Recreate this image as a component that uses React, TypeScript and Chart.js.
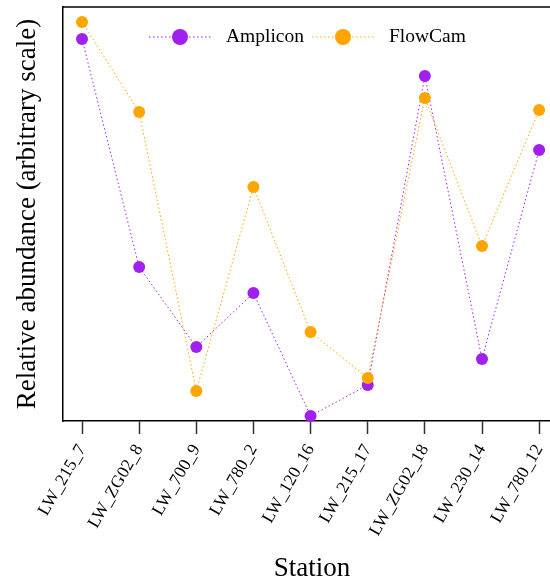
import React, { useEffect, useRef } from "react";
import { Chart, registerables } from "chart.js";

Chart.register(...registerables);

const stations = [
  "LW_215_7",
  "LW_ZG02_8",
  "LW_700_9",
  "LW_780_2",
  "LW_120_16",
  "LW_215_17",
  "LW_ZG02_18",
  "LW_230_14",
  "LW_780_12",
];
const amplicon = [382, 154, 74, 128, 5, 36, 345, 62, 271];
const flowcam = [399, 309, 30, 234, 89, 43, 323, 175, 311];
const seriesNames = ["Amplicon", "FlowCam"];
const seriesColors = ["#A020F0", "#FFA500"];
const xTitle = "Station";
const yTitle = "Relative abundance (arbitrary scale)";

const FONT = "'Liberation Serif', 'Times New Roman', serif";

const frameAndLegend = {
  id: "frameAndLegend",
  afterDraw(chart: any) {
    const { ctx, chartArea } = chart;
    ctx.save();
    ctx.strokeStyle = "#000";
    ctx.lineWidth = 1.5;
    ctx.beginPath();
    ctx.moveTo(chartArea.left, chartArea.top);
    ctx.lineTo(chartArea.right, chartArea.top);
    ctx.stroke();
    // x-axis title (axes extend slightly past the right edge, so centre is offset)
    ctx.fillStyle = "#000";
    ctx.font = `27px ${FONT}`;
    ctx.textAlign = "center";
    ctx.textBaseline = "middle";
    ctx.fillText(xTitle, 312, 568.5);
    const y = 37;
    const starts = [149, 312];
    seriesNames.forEach((name, i) => {
      const x0 = starts[i];
      ctx.strokeStyle = seriesColors[i];
      ctx.lineWidth = 1;
      ctx.setLineDash([1.5, 2.5]);
      ctx.beginPath();
      ctx.moveTo(x0, y);
      ctx.lineTo(x0 + 62, y);
      ctx.stroke();
      ctx.setLineDash([]);
      ctx.fillStyle = seriesColors[i];
      ctx.beginPath();
      ctx.arc(x0 + 31, y, 8, 0, Math.PI * 2);
      ctx.fill();
      ctx.fillStyle = "#000";
      ctx.font = `19.5px ${FONT}`;
      ctx.textBaseline = "middle";
      ctx.textAlign = "left";
      ctx.fillText(name, x0 + 77, y);
    });
    ctx.restore();
  },
};

const zeroPad = () => ({ left: 0, top: 0, right: 0, bottom: 0 });

export default function App() {
  const ref = useRef<HTMLCanvasElement>(null);
  useEffect(() => {
    if (!ref.current) return;
    Chart.defaults.font.family = FONT;
    const mk = (vals: number[], i: number) => ({
      label: seriesNames[i],
      data: vals.map((v, k) => ({ x: k, y: v })),
      borderColor: seriesColors[i],
      backgroundColor: seriesColors[i],
      borderWidth: 1,
      borderDash: [1.5, 2.5],
      pointRadius: 6,
      pointBorderWidth: 0,
      pointBackgroundColor: seriesColors[i],
      clip: false as any,
    });
    const chart = new Chart(ref.current, {
      type: "line",
      data: { datasets: [mk(flowcam, 1), mk(amplicon, 0)] as any },
      options: {
        animation: false,
        responsive: false,
        maintainAspectRatio: false,
        layout: { autoPadding: false, padding: { top: 7, left: 0, right: 0, bottom: 0 } },
        plugins: { legend: { display: false }, tooltip: { enabled: false } },
        scales: {
          x: {
            type: "linear",
            min: -0.333,
            max: 8.19,
            afterBuildTicks: (axis: any) => {
              axis.ticks = stations.map((_, i) => ({ value: i }));
            },
            afterFit: (s: any) => {
              s.height = 161;
              s.paddingLeft = 0;
              s.paddingRight = 0;
              s.getPadding = zeroPad;
            },
            ticks: {
              autoSkip: false,
              minRotation: 60,
              maxRotation: 60,
              padding: 7,
              color: "#000",
              font: { size: 17.5 },
              callback: (v: any) => stations[v as number] ?? "",
            },
            grid: {
              drawOnChartArea: false,
              tickLength: 13,
              tickWidth: 1.5,
              tickColor: "#333",
            },
            border: { color: "#000", width: 1.5 },
            title: { display: false },
          },
          y: {
            min: 0,
            max: 414,
            afterFit: (s: any) => {
              s.width = 63;
              s.getPadding = zeroPad;
            },
            ticks: { display: false },
            grid: { display: true, drawOnChartArea: false, drawTicks: false },
            border: { color: "#000", width: 1.5 },
            title: {
              display: true,
              text: yTitle,
              color: "#000",
              font: { size: 27, lineHeight: 1 },
              padding: { top: 14, bottom: 0 },
            },
          },
        },
      },
      plugins: [frameAndLegend],
    });
    return () => chart.destroy();
  }, []);
  return (
    <div style={{ position: "absolute", left: 0, top: 0, width: 550, height: 582 }}>
      <canvas ref={ref} width={550} height={582} style={{ display: "block" }} />
    </div>
  );
}
